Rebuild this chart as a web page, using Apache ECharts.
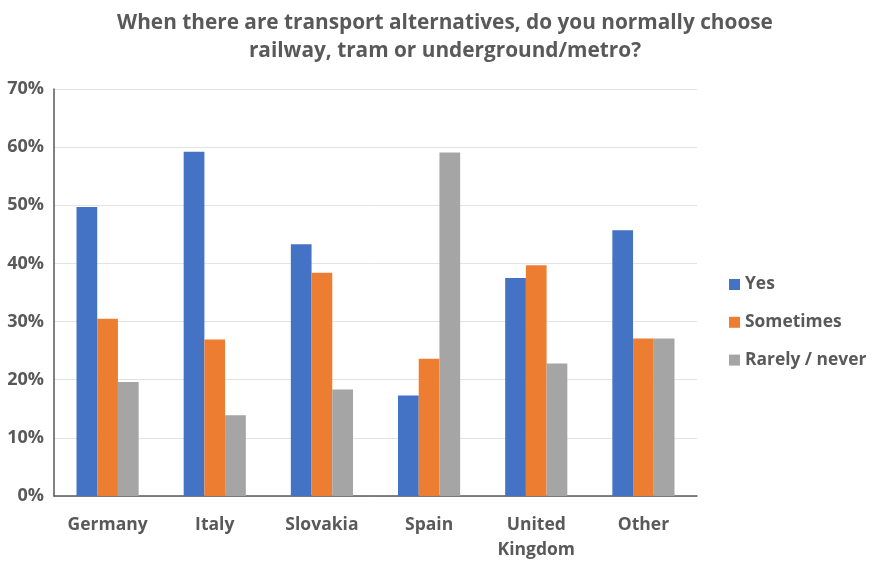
<!DOCTYPE html>
<html>
<head>
<meta charset="utf-8">
<script src="https://cdn.jsdelivr.net/npm/echarts@6/dist/echarts.min.js"></script>
<style>
  html, body { margin: 0; padding: 0; background: #ffffff; }
  #chart { width: 878px; height: 565px; }
</style>
</head>
<body>
<div id="chart"></div>
<script>
// Survey answers per country, in percent
const countries = ['Germany', 'Italy', 'Slovakia', 'Spain', 'United\nKingdom', 'Other'];
const yes = [49.7, 59.2, 43.3, 17.3, 37.5, 45.7];
const sometimes = [30.5, 26.9, 38.4, 23.6, 39.7, 27.1];
const rarelyNever = [19.6, 13.9, 18.3, 59.1, 22.8, 27.1];
const seriesNames = ['Yes', 'Sometimes', 'Rarely / never'];
const seriesColors = ['#4472c4', '#ed7d31', '#a5a5a5'];

const FONT = 'Open Sans';
const TEXT = '#595959';

const chart = echarts.init(document.getElementById('chart'), null, { renderer: 'canvas' });

const makeBar = (name, data, color) => ({
  name: name,
  type: 'bar',
  data: data,
  barGap: '0%',
  barCategoryGap: '42%',
  itemStyle: { color: color },
  emphasis: { disabled: true }
});

chart.setOption({
  animation: false,
  backgroundColor: '#ffffff',
  title: {
    text: 'When there are transport alternatives, do you normally choose\nrailway, tram or underground/metro?',
    left: 440,
    textAlign: 'center',
    top: 4,
    textStyle: {
      fontFamily: FONT,
      fontWeight: 'bold',
      fontSize: 20.8,
      lineHeight: 28,
      color: TEXT
    }
  },
  legend: {
    orient: 'vertical',
    left: 724,
    top: 271,
    itemWidth: 11,
    itemHeight: 11,
    itemGap: 20.8,
    icon: 'rect',
    data: seriesNames,
    textStyle: {
      fontFamily: FONT,
      fontWeight: 'bold',
      fontSize: 17.4,
      color: TEXT
    }
  },
  grid: {
    left: 54,
    right: 181,
    top: 89,
    bottom: 69,
    containLabel: false
  },
  xAxis: {
    type: 'category',
    data: countries,
    axisLine: { lineStyle: { color: '#595959', width: 1.5 } },
    axisTick: { show: false },
    axisLabel: {
      margin: 17,
      fontFamily: FONT,
      fontWeight: 'bold',
      fontSize: 17.5,
      lineHeight: 25,
      color: TEXT
    }
  },
  yAxis: {
    type: 'value',
    min: 0,
    max: 70,
    interval: 10,
    axisLine: { show: true, lineStyle: { color: '#595959', width: 1.5 } },
    axisTick: { show: false },
    splitLine: { lineStyle: { color: '#e3e3e3', width: 1 } },
    axisLabel: {
      margin: 10,
      formatter: '{value}%',
      fontFamily: FONT,
      fontWeight: 'bold',
      fontSize: 18,
      color: TEXT
    }
  },
  series: [
    makeBar(seriesNames[0], yes, seriesColors[0]),
    makeBar(seriesNames[1], sometimes, seriesColors[1]),
    makeBar(seriesNames[2], rarelyNever, seriesColors[2])
  ]
});
</script>
</body>
</html>
